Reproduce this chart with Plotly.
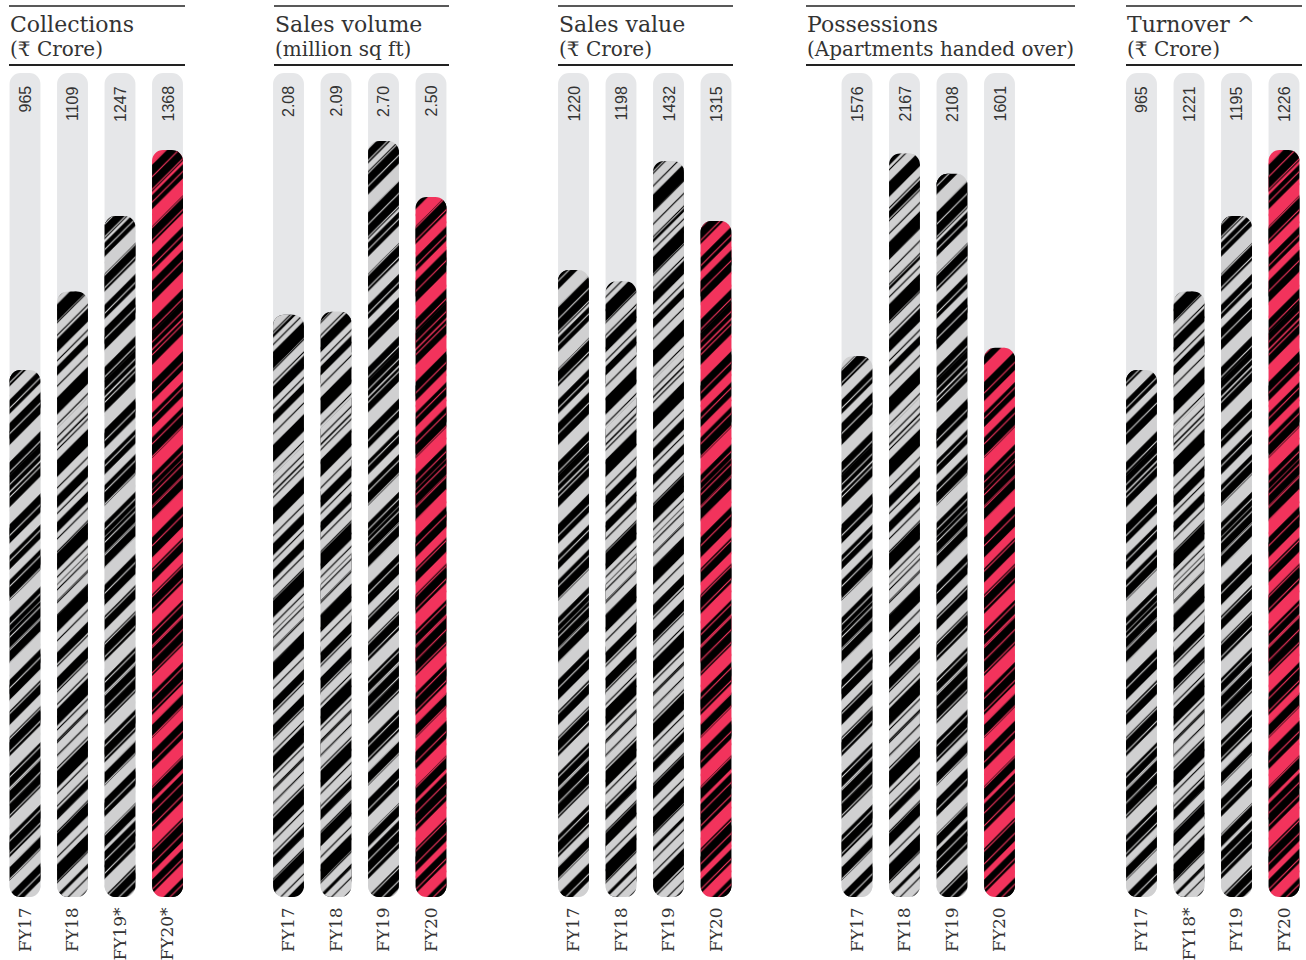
import plotly.graph_objects as go

# ---------------- data ----------------
titles = ["Collections", "Sales volume", "Sales value", "Possessions", "Turnover ^"]
subtitles = ["(₹ Crore)", "(million sq ft)", "(₹ Crore)", "(Apartments handed over)", "(₹ Crore)"]

cats_collections = ["FY17", "FY18", "FY19*", "FY20*"]
cats_sales_volume = ["FY17", "FY18", "FY19", "FY20"]
cats_sales_value = ["FY17", "FY18", "FY19", "FY20"]
cats_possessions = ["FY17", "FY18", "FY19", "FY20"]
cats_turnover = ["FY17", "FY18*", "FY19", "FY20"]

collections = [965, 1109, 1247, 1368]
sales_volume = [2.08, 2.09, 2.70, 2.50]
sales_value = [1220, 1198, 1432, 1315]
possessions = [1576, 2167, 2108, 1601]
turnover = [965, 1221, 1195, 1226]
# bar lengths as drawn in the source graphic for turnover (it re-uses the collections bars)
turnover_drawn = [965, 1109, 1247, 1368]

labels_collections = ["965", "1109", "1247", "1368"]
labels_sales_volume = ["2.08", "2.09", "2.70", "2.50"]
labels_sales_value = ["1220", "1198", "1432", "1315"]
labels_possessions = ["1576", "2167", "2108", "1601"]
labels_turnover = ["965", "1221", "1195", "1226"]

# full track length of each panel's axis (value units)
axis_max = [1509, 2.943, 1603, 2402, 1509]

# ---------------- styling ----------------
W, H = 1306, 960
TRACK = "#e6e7e9"
BLACK = "#000000"
GRAY = "#d0d0d1"
RED = "#f2335c"
TXT = "#333333"

styles = [
    ["g", "k", "g", "r"],
    ["k", "k", "g", "r"],
    ["g", "k", "k", "r"],
    ["g", "k", "g", "r"],
    ["g", "k", "g", "r"],
]
STY = {"g": (GRAY, BLACK), "k": (BLACK, GRAY), "r": (RED, BLACK)}

panel_cats = [cats_collections, cats_sales_volume, cats_sales_value, cats_possessions, cats_turnover]
panel_vals = [collections, sales_volume, sales_value, possessions, turnover_drawn]
panel_labels = [labels_collections, labels_sales_volume, labels_sales_value, labels_possessions, labels_turnover]

# pixel layout
x_domains_px = [(1.25, 191.25), (264.75, 454.75), (549.75, 739.75), (833.25, 1023.25), (1117.75, 1306)]
x_ranges = [[-0.5, 3.5]] * 4 + [[-0.5, 3.5 - (1307.75 - 1306) / 47.5]]
y_bot_px, y_top_px = 897, 73
header_lines = [(9, 185), (274, 449), (558, 733), (806, 1075), (1126, 1302)]


def px_x(p):
    return p / W


def px_y(p):
    return 1 - p / H


fig = go.Figure()
BW = 0.65
RAD = 11
NOLINE = dict(width=0)
CLEAR = "rgba(0,0,0,0)"


def add_piece(x, y, xa, ya, color, pattern=None):
    # an explicit base makes plotly round both ends of the bar
    m = dict(color=color, line=NOLINE, cornerradius=RAD)
    if pattern is not None:
        m["pattern"] = pattern
    fig.add_trace(go.Bar(x=[x], y=[y], base=[0], width=BW, marker=m, xaxis=xa, yaxis=ya,
                         hoverinfo="skip", showlegend=False))


for i in range(5):
    xa = "x" if i == 0 else f"x{i+1}"
    ya = "y" if i == 0 else f"y{i+1}"
    cats = panel_cats[i]
    vals = panel_vals[i]
    R = axis_max[i]

    # background tracks
    for c in cats:
        add_piece(c, R, xa, ya, TRACK)

    for c, v, s in zip(cats, vals, styles[i]):
        bg, fg = STY[s]
        layers = [
            (bg, dict(shape="/", fillmode="replace", bgcolor=bg, fgcolor=fg, fgopacity=1,
                      size=22, solidity=0.45)),
            (CLEAR, dict(shape="/", fillmode="replace", bgcolor=CLEAR, fgcolor=fg, fgopacity=1,
                         size=37, solidity=0.3)),
            (CLEAR, dict(shape="/", fillmode="replace", bgcolor=CLEAR, fgcolor=bg, fgopacity=1,
                         size=9, solidity=0.13)),
        ]
        for col, pat in layers:
            add_piece(c, v, xa, ya, col, pat)

    d0, d1 = x_domains_px[i]
    fig.layout[f"xaxis{'' if i == 0 else i+1}"] = dict(
        domain=[px_x(d0), min(px_x(d1), 1.0)], range=x_ranges[i], type="category",
        categoryorder="array", categoryarray=cats, anchor=ya,
        showgrid=False, zeroline=False, showline=False, ticks="",
        tickangle=-90, ticklabelstandoff=6,
        tickfont=dict(family="DejaVu Serif", size=17, color=TXT), fixedrange=True)
    fig.layout[f"yaxis{'' if i == 0 else i+1}"] = dict(
        domain=[px_y(y_bot_px), px_y(y_top_px)], range=[0, R], anchor=xa,
        showgrid=False, zeroline=False, showline=False, showticklabels=False, fixedrange=True)

    # value labels at the top of each track
    for c, lab in zip(cats, panel_labels[i]):
        fig.add_annotation(x=c, xref=xa, y=1 - 11 / (y_bot_px - y_top_px), yref=f"{ya} domain",
                           text=lab, textangle=-90, showarrow=False, yanchor="top", xanchor="center",
                           font=dict(family="Liberation Sans", size=16, color=TXT))

    # header
    l0, l1 = header_lines[i]
    fig.add_shape(type="line", xref="paper", yref="paper", x0=px_x(l0), x1=px_x(l1),
                  y0=px_y(6), y1=px_y(6), line=dict(color="#222222", width=1.5))
    fig.add_shape(type="line", xref="paper", yref="paper", x0=px_x(l0), x1=px_x(l1),
                  y0=px_y(65), y1=px_y(65), line=dict(color="#222222", width=2))
    fig.add_annotation(x=px_x(l0 - 1), y=px_y(24), xref="paper", yref="paper", text=titles[i],
                       showarrow=False, xanchor="left", yanchor="middle",
                       font=dict(family="DejaVu Serif", size=22, color=TXT))
    fig.add_annotation(x=px_x(l0 - 1), y=px_y(49), xref="paper", yref="paper", text=subtitles[i],
                       showarrow=False, xanchor="left", yanchor="middle",
                       font=dict(family="DejaVu Serif", size=20, color=TXT))

fig.update_layout(
    width=W, height=H, margin=dict(l=0, r=0, t=0, b=0),
    paper_bgcolor="white", plot_bgcolor="white",
    barmode="overlay", showlegend=False,
)

fig.write_html(
    "out.html",
    config={"displayModeBar": False},
    post_script="document.body.style.margin='0';document.body.style.overflow='hidden';",
)
